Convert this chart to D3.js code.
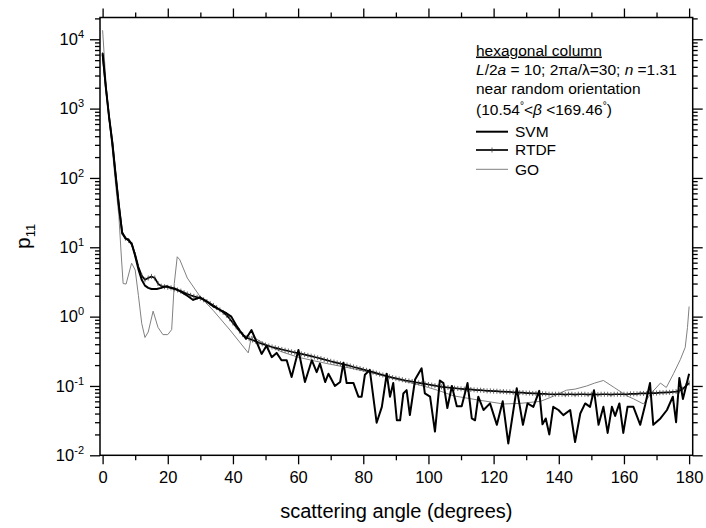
<!DOCTYPE html>
<html>
<head>
<meta charset="utf-8">
<script src="https://cdn.jsdelivr.net/npm/d3@7"></script>
<style>
  html, body { margin: 0; padding: 0; background: #fff; }
  svg text { font-family: "Liberation Sans", Arial, sans-serif; fill: #000; }
</style>
</head>
<body>
<svg id="chart" width="706" height="528"></svg>
<script>
// ---- data ----
// x ticks (degrees) and y decades
const xMajorTicks = [0, 20, 40, 60, 80, 100, 120, 140, 160, 180];
const xMinorTicks = [10, 30, 50, 70, 90, 110, 130, 150, 170];
const yDecades = [-2, -1, 0, 1, 2, 3, 4];

// SVM: [angle, p11]
const svmPoints = [
  [0, 6300], [1, 2000], [2, 750], [3, 320], [4, 110], [5, 40], [6, 16], [7, 13.5], [8, 12.8], [9, 11],
  [10, 7.5], [11, 4.8], [12, 3.4], [13, 2.8], [14, 2.6], [15, 2.5], [16.6, 2.5], [18, 2.6], [19.6, 2.75],
  [21, 2.6], [22.5, 2.5], [24, 2.3], [26, 2.0], [27.8, 1.74], [29.9, 1.9], [32, 1.65], [34, 1.4], [36, 1.25],
  [38, 1.12], [39.5, 1.0], [41, 0.75], [42.2, 0.62], [44, 0.48], [45.7, 0.64], [48.8, 0.29], [50.3, 0.38],
  [51.9, 0.26], [53.4, 0.30], [54.9, 0.235], [56.5, 0.235], [58, 0.135], [60.1, 0.33], [62.1, 0.114],
  [64.2, 0.235], [65.7, 0.158], [66.7, 0.21], [68.3, 0.114], [69.3, 0.15], [71.3, 0.10], [72.9, 0.114],
  [73.9, 0.216], [74.9, 0.11], [77, 0.11], [78.5, 0.07], [79.5, 0.07], [80.5, 0.145], [82, 0.17],
  [84.1, 0.0295], [85.7, 0.05], [87.2, 0.15], [88.2, 0.07], [89.2, 0.11], [90.3, 0.032], [91.3, 0.032],
  [92.3, 0.078], [93.3, 0.087], [94.3, 0.038], [95.9, 0.124], [97.9, 0.18], [98.9, 0.078], [100.5, 0.07],
  [102, 0.022], [103.5, 0.12], [104.6, 0.11], [105.8, 0.048], [107.2, 0.10], [108.7, 0.051], [110.2, 0.051],
  [112, 0.11], [113.3, 0.034], [114.3, 0.032], [115.3, 0.07], [116.9, 0.045], [118.9, 0.056], [121, 0.0275],
  [122.8, 0.06], [124.5, 0.0148], [125.6, 0.032], [127.1, 0.093], [129, 0.0275], [130.4, 0.056], [132.2, 0.05],
  [134, 0.085], [135, 0.028], [136, 0.034], [137.1, 0.02], [138.3, 0.05], [139.9, 0.045], [141.4, 0.038],
  [143.5, 0.045], [145, 0.0155], [146.6, 0.04], [148.1, 0.056], [149.6, 0.05], [150.8, 0.087], [152.2, 0.0275],
  [153.7, 0.05], [155, 0.021], [156.3, 0.05], [157.3, 0.037], [158.6, 0.056], [159.8, 0.021], [161.1, 0.05],
  [162.9, 0.05], [165, 0.0275], [166.5, 0.053], [168, 0.11], [169, 0.0275], [171.2, 0.034], [173.2, 0.045],
  [175, 0.07], [176, 0.03], [177, 0.13], [178.1, 0.065], [179.3, 0.11], [180, 0.15]
];

// RTDF: one value per degree, 0..180
const rtdfP11 = [
  6000, 2000, 750, 320, 110, 40, 16.5, 13.5, 12.5, 11,
  7.8, 5.2, 3.9, 3.4, 3.6, 3.8, 3.6, 3.0, 2.75, 2.7,
  2.65, 2.6, 2.5, 2.42, 2.33, 2.22, 2.12, 2.03, 1.96, 1.9,
  1.84, 1.75, 1.65, 1.55, 1.45, 1.35, 1.25, 1.15, 1.05, 0.93,
  0.81, 0.71, 0.62, 0.55, 0.5, 0.48, 0.46, 0.44, 0.42, 0.405,
  0.39, 0.377, 0.365, 0.355, 0.345, 0.336, 0.327, 0.319, 0.311, 0.304,
  0.297, 0.29, 0.283, 0.276, 0.269, 0.262, 0.255, 0.248, 0.241, 0.234,
  0.227, 0.221, 0.215, 0.21, 0.205, 0.2, 0.194, 0.188, 0.183, 0.178,
  0.173, 0.168, 0.163, 0.158, 0.153, 0.148, 0.144, 0.14, 0.136, 0.132,
  0.129, 0.126, 0.123, 0.12, 0.118, 0.116, 0.113, 0.111, 0.109, 0.107,
  0.105, 0.103, 0.101, 0.099, 0.097, 0.096, 0.095, 0.094, 0.093, 0.092,
  0.091, 0.09, 0.089, 0.089, 0.088, 0.087, 0.087, 0.086, 0.085, 0.085,
  0.084, 0.084, 0.083, 0.083, 0.082, 0.082, 0.081, 0.081, 0.08, 0.08,
  0.079, 0.079, 0.078, 0.078, 0.077, 0.077, 0.077, 0.076, 0.076, 0.076,
  0.076, 0.076, 0.075, 0.076, 0.076, 0.075, 0.076, 0.076, 0.076, 0.075,
  0.076, 0.076, 0.075, 0.076, 0.076, 0.076, 0.075, 0.076, 0.076, 0.076,
  0.076, 0.076, 0.077, 0.077, 0.077, 0.078, 0.078, 0.078, 0.079, 0.079,
  0.079, 0.08, 0.08, 0.081, 0.081, 0.082, 0.083, 0.085, 0.09, 0.1,
  0.11
];

// GO: [angle, p11]
const goPoints = [
  [0, 13500], [1, 2500], [2, 700], [3, 250], [4, 80], [5, 28], [5.7, 8], [6.3, 3.0], [7.2, 2.95], [8.9, 5.9],
  [10, 4.7], [11, 2.0], [12, 0.8], [13, 0.5], [14, 0.6], [15.5, 1.2], [17, 0.7], [18.5, 0.55], [20, 0.55],
  [21.2, 0.65], [22, 3], [22.9, 7.3], [23.7, 6.6], [26, 3.6], [29.9, 1.95], [34, 1.22], [39.1, 0.64],
  [44.7, 0.30], [45.7, 0.52], [50, 0.40], [55, 0.31], [60, 0.26], [65, 0.23], [70, 0.205], [75, 0.185],
  [80, 0.165], [85, 0.145], [90, 0.125], [95, 0.11], [100, 0.095], [103.4, 0.085], [107.7, 0.072],
  [115, 0.063], [123, 0.055], [128, 0.056], [134.4, 0.06], [138, 0.07], [142.4, 0.087], [145, 0.09],
  [148.6, 0.10], [151, 0.11], [153.7, 0.12], [157, 0.095], [160.9, 0.072], [163, 0.065], [166, 0.055],
  [168.5, 0.08], [171.2, 0.11], [173, 0.095], [175.2, 0.15], [177.3, 0.24], [178.8, 0.36], [179.5, 0.7],
  [180, 1.4]
];

// ---- chart ----
const dims = { left: 100, top: 17.5, right: 692.7, bottom: 455.3 };
const svg = d3.select("#chart");

const x = d3.scaleLinear().domain([-0.8, 181.1]).range([dims.left, dims.right]);
const y = d3.scaleLog().domain([0.01, 2.06e4]).range([dims.bottom, dims.top]);

const yMajor = yDecades.map(e => Math.pow(10, e));
const yMinor = [];
yDecades.forEach(e => {
  for (let k = 2; k <= 9; k++) {
    const v = k * Math.pow(10, e);
    if (v < y.domain()[1]) yMinor.push(v);
  }
});

function styleAxis(g) {
  g.select(".domain").remove();
  g.selectAll(".tick line").attr("stroke", "#000").attr("stroke-width", 1.3);
  g.selectAll(".tick text").attr("font-size", 16.5).attr("fill", "#000");
}

// bottom
svg.append("g").attr("transform", `translate(0,${dims.bottom})`)
  .call(d3.axisBottom(x).tickValues(xMajorTicks).tickSize(9).tickPadding(7).tickFormat(d => d))
  .call(styleAxis);
svg.append("g").attr("transform", `translate(0,${dims.bottom})`)
  .call(d3.axisBottom(x).tickValues(xMinorTicks).tickSize(5).tickFormat(""))
  .call(styleAxis);
// top
svg.append("g").attr("transform", `translate(0,${dims.top})`)
  .call(d3.axisTop(x).tickValues(xMajorTicks).tickSize(9).tickFormat(""))
  .call(styleAxis);
svg.append("g").attr("transform", `translate(0,${dims.top})`)
  .call(d3.axisTop(x).tickValues(xMinorTicks).tickSize(5).tickFormat(""))
  .call(styleAxis);
// left
svg.append("g").attr("transform", `translate(${dims.left},0)`)
  .call(d3.axisLeft(y).tickValues(yMajor).tickSize(10).tickFormat(""))
  .call(styleAxis);
svg.append("g").attr("transform", `translate(${dims.left},0)`)
  .call(d3.axisLeft(y).tickValues(yMinor).tickSize(5).tickFormat(""))
  .call(styleAxis);
// right
svg.append("g").attr("transform", `translate(${dims.right},0)`)
  .call(d3.axisRight(y).tickValues(yMajor).tickSize(10).tickFormat(""))
  .call(styleAxis);
svg.append("g").attr("transform", `translate(${dims.right},0)`)
  .call(d3.axisRight(y).tickValues(yMinor).tickSize(5).tickFormat(""))
  .call(styleAxis);

// y tick labels 10^n
const yLab = svg.append("g");
yDecades.forEach(e => {
  const t = yLab.append("text")
    .attr("x", 84)
    .attr("y", y(Math.pow(10, e)) + 5.8)
    .attr("text-anchor", "end")
    .attr("font-size", 16.5);
  t.append("tspan").text("10");
  t.append("tspan").attr("font-size", 11).attr("dy", -7).text(e);
});

// frame
svg.append("rect")
  .attr("x", dims.left).attr("y", dims.top)
  .attr("width", dims.right - dims.left).attr("height", dims.bottom - dims.top)
  .attr("fill", "none").attr("stroke", "#000").attr("stroke-width", 1.5);

// clip
svg.append("clipPath").attr("id", "plotClip").append("rect")
  .attr("x", dims.left).attr("y", dims.top)
  .attr("width", dims.right - dims.left).attr("height", dims.bottom - dims.top);

const line = d3.line().x(d => x(d[0])).y(d => y(d[1]));
const plot = svg.append("g").attr("clip-path", "url(#plotClip)");

const rtdfPoints = rtdfP11.map((v, i) => [i, v]);

plot.append("path").datum(goPoints)
  .attr("d", line).attr("fill", "none")
  .attr("stroke", "#808080").attr("stroke-width", 1);

plot.append("path").datum(rtdfPoints)
  .attr("d", line).attr("fill", "none")
  .attr("stroke", "#000").attr("stroke-width", 1.7).attr("stroke-linejoin", "round");

plot.selectAll("line.rtdfMark").data(rtdfPoints).join("line")
  .attr("class", "rtdfMark")
  .attr("x1", d => x(d[0])).attr("x2", d => x(d[0]))
  .attr("y1", d => y(d[1]) - 2.5).attr("y2", d => y(d[1]) + 2.5)
  .attr("stroke", "#444").attr("stroke-width", 0.8);

plot.append("path").datum(svmPoints)
  .attr("d", line).attr("fill", "none")
  .attr("stroke", "#000").attr("stroke-width", 2).attr("stroke-linejoin", "round");

// axis titles
svg.append("text")
  .attr("x", (dims.left + dims.right) / 2).attr("y", 518)
  .attr("text-anchor", "middle").attr("font-size", 20)
  .text("scattering angle (degrees)");

const yt = svg.append("text")
  .attr("transform", `translate(30,${(dims.top + dims.bottom) / 2}) rotate(-90)`)
  .attr("text-anchor", "middle").attr("font-size", 21);
yt.append("tspan").text("p");
yt.append("tspan").attr("font-size", 13).attr("dy", 5).text("11");

// legend / annotation
const lg = svg.append("g").attr("font-size", 15.5);
lg.append("text").attr("x", 476).attr("y", 55.5).attr("text-decoration", "underline").text("hexagonal column");

const l2 = lg.append("text").attr("x", 476).attr("y", 75);
l2.append("tspan").attr("font-style", "italic").text("L");
l2.append("tspan").text("/2");
l2.append("tspan").attr("font-style", "italic").text("a");
l2.append("tspan").text(" = 10; 2\u03C0");
l2.append("tspan").attr("font-style", "italic").text("a");
l2.append("tspan").text("/\u03BB=30; ");
l2.append("tspan").attr("font-style", "italic").text("n");
l2.append("tspan").text(" =1.31");

lg.append("text").attr("x", 476).attr("y", 94.3).text("near random orientation");

const l4 = lg.append("text").attr("x", 476).attr("y", 114.5);
l4.append("tspan").text("(10.54");
l4.append("tspan").attr("font-size", 10).attr("dy", -6).text("\u00B0");
l4.append("tspan").attr("dy", 6).text("<");
l4.append("tspan").attr("font-style", "italic").text("\u03B2");
l4.append("tspan").text(" <169.46");
l4.append("tspan").attr("font-size", 10).attr("dy", -6).text("\u00B0");
l4.append("tspan").attr("dy", 6).text(")");

const legendItems = [
  { name: "SVM", y: 131.7, color: "#000", width: 2, mark: false },
  { name: "RTDF", y: 150, color: "#000", width: 1.7, mark: true },
  { name: "GO", y: 169.3, color: "#808080", width: 1, mark: false }
];
legendItems.forEach(it => {
  lg.append("line").attr("x1", 476).attr("x2", 508).attr("y1", it.y).attr("y2", it.y)
    .attr("stroke", it.color).attr("stroke-width", it.width);
  if (it.mark) {
    lg.append("line").attr("x1", 492).attr("x2", 492).attr("y1", it.y - 2.5).attr("y2", it.y + 2.5)
      .attr("stroke", "#444").attr("stroke-width", 0.8);
  }
  lg.append("text").attr("x", 515).attr("y", it.y + 5.3).text(it.name);
});
</script>
</body>
</html>
